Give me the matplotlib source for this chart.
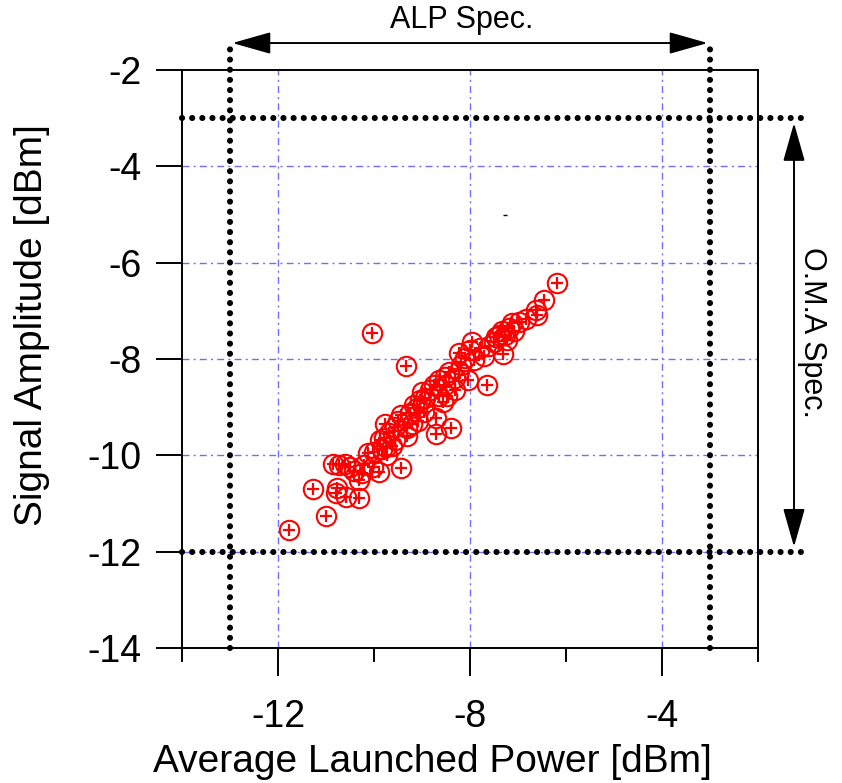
import matplotlib
matplotlib.use("Agg")
import matplotlib.pyplot as plt

plt.rcParams['font.family'] = ['Liberation Sans', 'DejaVu Sans']

# Data: (Average Launched Power [dBm], Signal Amplitude [dBm])
alp = [-11.78, -11.28, -10.99, -10.86, -10.72, -10.61, -10.78, -10.80, -10.59, -10.32,
       -10.32, -10.42, -10.51, -10.13, -10.03, -9.90, -9.99, -9.84, -9.74, -9.63,
       -9.80, -9.43, -9.88, -9.78, -9.57, -9.32, -9.32, -9.20, -9.68, -9.51,
       -9.43, -9.26, -9.11, -9.05, -9.16, -8.99, -8.93, -8.84, -8.70, -8.39,
       -8.70, -8.57, -8.76, -8.64, -8.53, -8.43, -8.53, -8.32, -8.22, -8.32,
       -8.18, -8.10, -8.22, -8.01, -7.95, -7.91, -8.05, -7.64, -7.80, -7.70,
       -7.60, -7.45, -7.33, -7.31, -7.39, -7.18, -7.12, -6.97, -7.22, -7.49,
       -6.62, -6.60, -6.45, -6.18, -9.34, -10.05, -7.28, -7.08, -6.83, -8.47,
       -8.64, -8.95, -9.09, -9.57, -9.72, -10.20, -10.26]
oma = [-11.54, -10.69, -11.25, -10.19, -10.21, -10.17, -10.67, -10.79, -10.86, -10.88,
       -10.52, -10.32, -10.25, -9.96, -10.25, -10.34, -9.94, -9.86, -9.82, -9.80,
       -9.63, -10.27, -9.69, -9.34, -9.42, -9.59, -9.44, -9.34, -9.53, -9.28,
       -9.17, -9.13, -9.01, -8.86, -8.96, -8.69, -8.82, -8.65, -9.55, -9.44,
       -9.23, -8.90, -8.55, -8.44, -8.38, -8.28, -8.55, -8.40, -8.24, -8.65,
       -8.13, -7.97, -7.88, -7.82, -7.65, -8.03, -8.44, -8.53, -7.78, -7.93,
       -7.72, -7.55, -7.41, -7.90, -7.51, -7.36, -7.26, -7.24, -7.61, -7.65,
       -6.99, -7.09, -6.78, -6.43, -8.15, -7.47, -7.51, -7.41, -7.16, -8.76,
       -8.76, -9.11, -9.28, -9.69, -10.00, -10.21, -10.36]

alp_spec = [-13, -3]
oma_spec = [-3, -12]
x_major = [-12, -8, -4]
x_minor = [-14, -10, -6, -2]
y_major = [-14, -12, -10, -8, -6, -4, -2]

fig = plt.figure(figsize=(8.42, 7.83), dpi=100)
ax = fig.add_axes([182/842, 1-648/783, 576/842, 578/783])
ax.set_xlim(-14, -2)
ax.set_ylim(-14, -2)

ax.set_xticks(x_major)
ax.set_xticks(x_minor, minor=True)
ax.set_xticklabels([str(v) for v in x_major])
ax.set_yticks(y_major)
ax.set_yticklabels([str(v) for v in y_major])
ax.tick_params(axis='x', which='major', direction='out', length=20, width=1.4, pad=17, labelsize=27)
ax.tick_params(axis='x', which='minor', direction='out', length=10, width=1.4)
ax.tick_params(axis='y', which='major', direction='out', length=19, width=1.4, pad=10, labelsize=27)
for s in ax.spines.values():
    s.set_linewidth(1.4)

grid_kw = dict(color='#6f6fff', linewidth=1.0, linestyle=(0, (5, 3, 1.5, 3)), zorder=0)
for v in x_major:
    ax.axvline(v, **grid_kw)
for v in [-12, -10, -8, -6, -4]:
    ax.axhline(v, **grid_kw)

dot_kw = dict(color='black', linewidth=4.4, linestyle=(0, (0.01, 1.65)),
              dash_capstyle='round', clip_on=False, zorder=4)
for v in alp_spec:
    ax.plot([v, v], [-14, -1.47], **dot_kw)
for v in oma_spec:
    ax.plot([-14, -1.1], [v, v], **dot_kw)

ax.plot(alp, oma, linestyle='none', marker='o', ms=14, mfc='none', mec='red', mew=1.5, zorder=5)
ax.plot(alp, oma, linestyle='none', marker='+', ms=8, mec='red', mew=1.6, zorder=5)

ax.plot([-7.28], [-5.01], marker='_', ms=3, color='black', mew=1)

arrow_kw = dict(arrowstyle='<|-|>,head_length=1.2,head_width=0.34', color='black', lw=1.4,
                shrinkA=0, shrinkB=0, mutation_scale=20)
ax.annotate('', xy=(-3.05, -1.44), xytext=(-12.95, -1.44), arrowprops=arrow_kw,
            annotation_clip=False)
ax.annotate('', xy=(-1.25, -11.9), xytext=(-1.25, -3.1), arrowprops=arrow_kw,
            annotation_clip=False)
ax.text(-8.18, -0.97, 'ALP Spec.', fontsize=22, ha='center', va='center')
ax.text(-0.88, -7.45, 'O.M.A Spec.', fontsize=22, ha='center', va='center', rotation=270)

fig.text(432/842, 1-762/783, 'Average Launched Power [dBm]', fontsize=28, ha='center', va='center')
fig.text(32/842, 1-325/783, 'Signal Amplitude [dBm]', fontsize=28, ha='center', va='center', rotation=90)

fig.savefig('out.png', dpi=100)
